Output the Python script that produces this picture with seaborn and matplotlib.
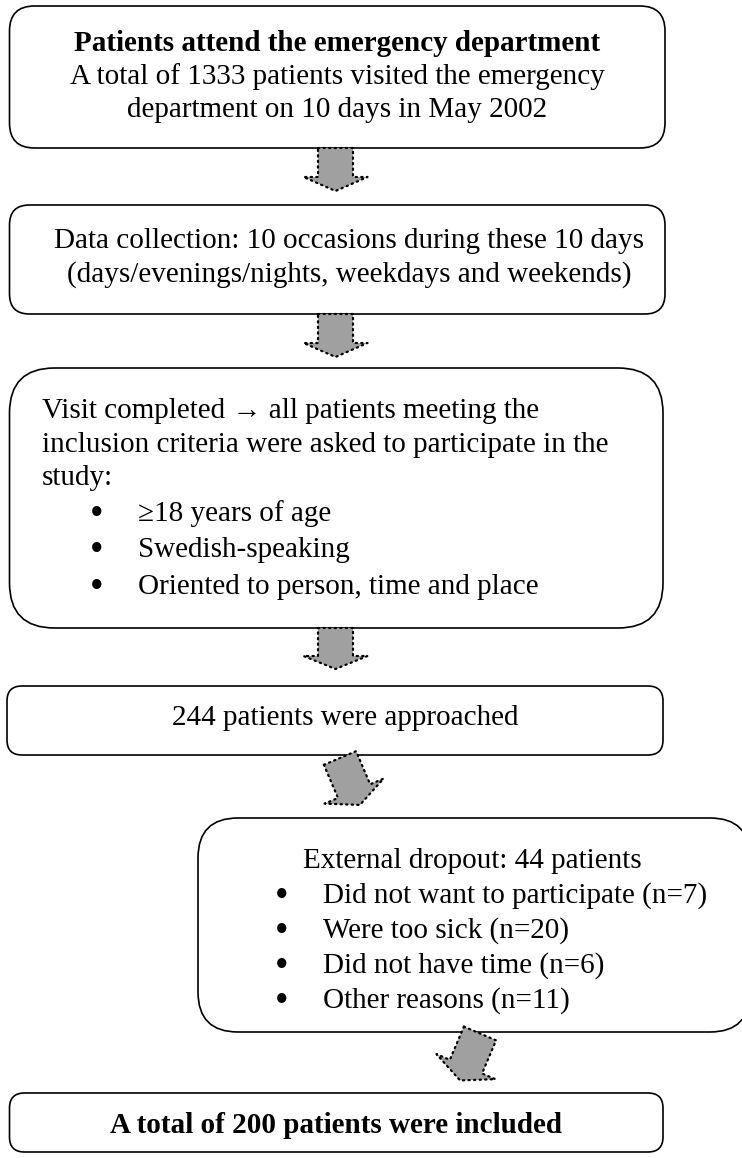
import matplotlib
matplotlib.use("Agg")
import numpy as np
import matplotlib.pyplot as plt
import seaborn as sns
from matplotlib.patches import FancyBboxPatch, Polygon, Rectangle

sns.set_theme(style="white")
plt.rcParams['font.family'] = ['Liberation Serif', 'DejaVu Serif']
plt.rcParams['text.color'] = 'black'

# ---------------- content ----------------
visits_total = 1333
approached_total = 244
included_total = 200
dropout_total = 44

title_1 = "Patients attend the emergency department"
lines_1 = [f"A total of {visits_total} patients visited the emergency",
           "department on 10 days in May 2002"]
lines_2 = ["Data collection: 10 occasions during these 10 days",
           "(days/evenings/nights, weekdays and weekends)"]
lines_3 = ["Visit completed \u2192 all patients meeting the",
           "inclusion criteria were asked to participate in the",
           "study:"]
criteria = ["\u226518 years of age", "Swedish-speaking",
            "Oriented to person, time and place"]
line_4 = f"{approached_total} patients were approached"
dropout_title = f"External dropout: {dropout_total} patients"
dropout_reasons = ["Did not want to participate", "Were too sick",
                   "Did not have time", "Other reasons"]
dropout_counts = [7, 20, 6, 11]
line_6 = f"A total of {included_total} patients were included"

# ---------------- canvas ----------------
W, H = 742, 1158
fig = plt.figure(figsize=(W / 100, H / 100), dpi=100)
ax = fig.add_axes([0, 0, 1, 1])
ax.set_xlim(0, W)
ax.set_ylim(H, 0)
ax.axis("off")
sns.despine(ax=ax, left=True, bottom=True)

FS = 21
BFS = 28
GRAY = "#a0a0a0"


def rbox(x0, y0, x1, y1, r):
    p = FancyBboxPatch((x0, y0), x1 - x0, y1 - y0,
                       boxstyle=f"round,pad=0,rounding_size={r}",
                       fc="white", ec="black", lw=1.2, zorder=1)
    ax.add_patch(p)
    return p


def block_arrow(cx, cy, ang, shaft_len, head_len, shw=17.5, hhw=32):
    a = np.deg2rad(ang)
    d = np.array([np.sin(a), np.cos(a)])
    p = np.array([np.cos(a), -np.sin(a)])
    L = shaft_len
    local = [(-shw, 0), (shw, 0), (shw, L), (hhw, L), (0, L + head_len),
             (-hhw, L), (-shw, L)]
    pts = [np.array([cx, cy]) + u * p + v * d for u, v in local]
    poly = Polygon(pts, closed=True, fc=GRAY, ec="black", lw=1.6,
                   ls=(0, (0.6, 1.9)), capstyle="round", joinstyle="round",
                   zorder=3)
    ax.add_patch(poly)


def bullet(x, y):
    return ax.text(x, y + 4, "\u2022", ha="center", va="baseline",
                   fontsize=BFS, color="black")


# Box 1
rbox(9.5, 6, 665, 148, 25)
ax.text(337, 51, title_1, ha="center", va="baseline", fontsize=FS,
        fontweight="bold")
for y, s in zip([84, 117], lines_1):
    ax.text(337, y, s, ha="center", va="baseline", fontsize=FS)

# Box 2
rbox(9.5, 205, 665, 314, 20)
for y, s in zip([248, 282], lines_2):
    ax.text(349, y, s, ha="center", va="baseline", fontsize=FS)

# Box 3
rbox(9.5, 368, 663, 628, 45)
for y, s in zip([418, 452, 485], lines_3):
    ax.text(42, y, s, ha="left", va="baseline", fontsize=FS)
for y, s in zip([521, 557, 594], criteria):
    bullet(97, y)
    ax.text(138, y, s, ha="left", va="baseline", fontsize=FS)

# Box 4
rbox(7, 686, 663, 755, 15)
ax.text(345, 725, line_4, ha="center", va="baseline", fontsize=FS)

# Box 5 (runs off the right edge)
rbox(198, 818, 750, 1032, 40)
clip = Rectangle((198, 818), 560, 191, transform=ax.transData)
ax.text(303, 868, dropout_title, ha="left", va="baseline", fontsize=FS)
for y, s, n in zip([903, 938, 973, 1008], dropout_reasons, dropout_counts):
    b = bullet(282, y)
    t = ax.text(323, y, f"{s} (n={n})", ha="left", va="baseline", fontsize=FS)
    t.set_clip_path(clip)
    b.set_clip_path(clip)

# Box 6
rbox(9.5, 1093, 663, 1152, 15)
ax.text(336, 1133, line_6, ha="center", va="baseline", fontsize=FS,
        fontweight="bold")

# Arrows
block_arrow(335.5, 148, 0, 29, 14)
block_arrow(335.5, 314, 0, 29, 14)
block_arrow(335.5, 628, 0, 28, 13)
block_arrow(340, 758, 23, 36, 15)
block_arrow(480, 1033.5, -23, 36, 15)

fig.savefig("out.png", dpi=100)
